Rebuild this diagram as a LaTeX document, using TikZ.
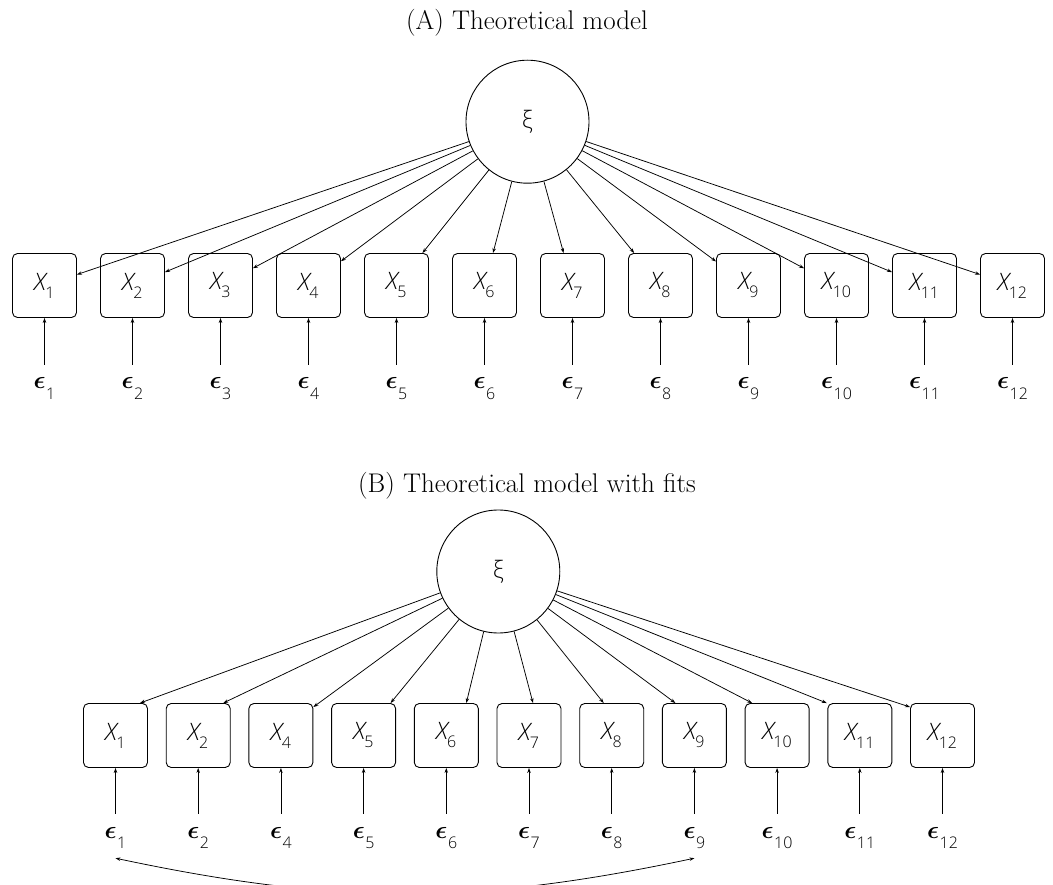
\documentclass[tikz,border=0pt]{standalone}
\usepackage{fontspec}
\usepackage{amsmath}
\usetikzlibrary{arrows.meta,calc}
\newfontfamily\lightsans{Open Sans}[UprightFont={* Light},ItalicFont={* Light Italic}]
% observed variable label X_i and error label epsilon_i
\newcommand\obsvar[1]{{\itshape X}\kern-0.5pt\raisebox{-8pt}{\fontsize{16}{16}\selectfont #1}}
\newcommand\errvar[1]{{\fontsize{24}{24}\selectfont$\boldsymbol{\epsilon}$}\kern0.5pt\raisebox{-10pt}{\fontsize{16}{16}\selectfont #1}}
\tikzset{
  obs/.style={draw, rounded corners=5pt, minimum width=64pt, minimum height=64pt,
    inner sep=0pt, line width=0.9pt, font=\lightsans\fontsize{24}{24}\selectfont},
  lat/.style={draw, circle, minimum size=123pt, inner sep=0pt, line width=0.9pt,
    font=\lightsans\fontsize{24}{24}\selectfont},
  err/.style={anchor=base, inner xsep=0pt, inner ysep=13pt, text height=11pt,
    text depth=7pt, font=\lightsans},
  load/.style={-{Stealth[length=5pt,width=3.5pt]}, line width=0.75pt},
  cov/.style={{Stealth[length=5pt,width=3.5pt]}-{Stealth[length=5pt,width=3.5pt]}, line width=0.75pt},
  heading/.style={font=\fontsize{27}{30}\selectfont, inner sep=0pt}
}
\begin{document}
\begin{tikzpicture}[x=1pt,y=-1pt]
\useasboundingbox (0,0) rectangle (1053,885);

% ---------- (A) theoretical model ----------
\node[heading] (tA) at (527,23) {(A) Theoretical model};
\node[lat] (xiA) at (527.5,121.7) {ξ};
\foreach \i in {1,...,12}{
  \node[obs] (a\i) at ({44.5+88*(\i-1)},285.5) {\obsvar{\i}};
  \node[err] (ea\i) at ({44.5+88*(\i-1)},389) {\errvar{\i}};
  \draw[load] (xiA) -- (a\i);
  \draw[load] (ea\i) -- (a\i);
}

% ---------- (B) theoretical model with fits ----------
\node[heading] (tB) at (527,486) {(B) Theoretical model with fits};
\node[lat] (xiB) at (498.3,571.5) {ξ};
\foreach \k/\n in {0/1,1/2,2/4,3/5,4/6,5/7,6/8,7/9,8/10,9/11,10/12}{
  \node[obs] (b\n) at ({115.5+82.7*\k},735.5) {\obsvar{\n}};
  \node[err] (eb\n) at ({115.5+82.7*\k},838) {\errvar{\n}};
  \draw[load] (eb\n) -- (b\n);
}
\foreach \n/\dx in {1/24.5,2/25,5/27,6/20,7/4,8/-8,9/-19,10/-25,11/-33}{
  \draw[load] (xiB) -- ($(b\n.north)+(\dx,0)$);
}
\draw[load] (xiB) -- ($(b4.north east)+(0,4)$);
\draw[load] (xiB) -- ($(b12.north west)+(0,4)$);

% correlated errors
\draw[cov] (eb1.south) to[bend right=12] (eb9.south);
\end{tikzpicture}
\end{document}
